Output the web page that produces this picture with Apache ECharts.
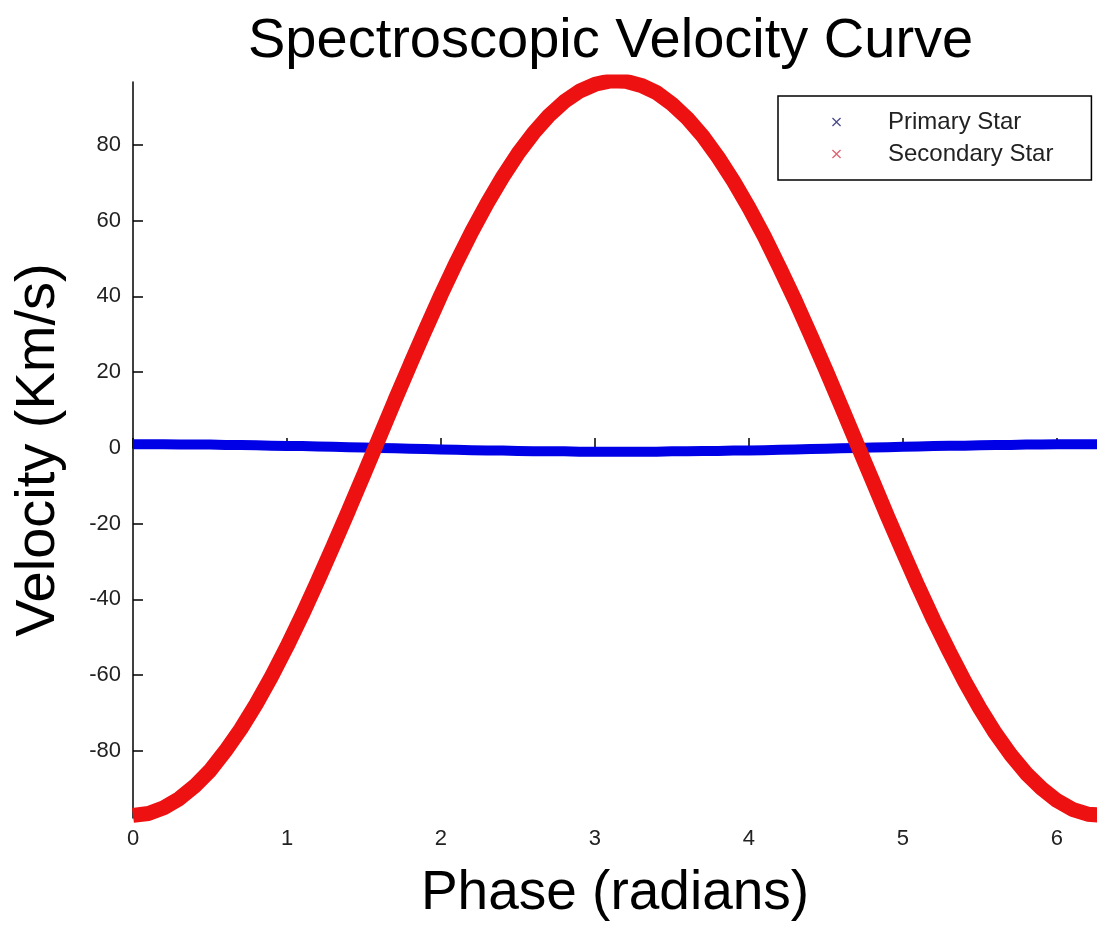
<!DOCTYPE html>
<html>
<head>
<meta charset="utf-8">
<script src="https://cdn.jsdelivr.net/npm/echarts@6/dist/echarts.min.js"></script>
<style>
  html, body { margin: 0; padding: 0; background: #fff; }
  #chart { width: 1097px; height: 932px; }
</style>
</head>
<body>
<div id="chart"></div>
<script>
// phase samples (radians)
const phase = [0.0, 0.1, 0.2, 0.3, 0.4, 0.5, 0.6, 0.7, 0.8, 0.9,
  1.0, 1.1, 1.2, 1.3, 1.4, 1.5, 1.6, 1.7, 1.8, 1.9,
  2.0, 2.1, 2.2, 2.3, 2.4, 2.5, 2.6, 2.7, 2.8, 2.9,
  3.0, 3.1, 3.2, 3.3, 3.4, 3.5, 3.6, 3.7, 3.8, 3.9,
  4.0, 4.1, 4.2, 4.3, 4.4, 4.5, 4.6, 4.7, 4.8, 4.9,
  5.0, 5.1, 5.2, 5.3, 5.4, 5.5, 5.6, 5.7, 5.8, 5.9,
  6.0, 6.1, 6.2, 6.3]

// primary star velocity (km/s), almost flat around 0
const primaryVel = [1.0, 1.0, 1.0, 0.9, 0.9, 0.9, 0.8, 0.8, 0.7, 0.6,
  0.5, 0.5, 0.4, 0.3, 0.2, 0.1, 0.0, -0.1, -0.2, -0.3,
  -0.4, -0.5, -0.6, -0.7, -0.7, -0.8, -0.9, -0.9, -0.9, -1.0,
  -1.0, -1.0, -1.0, -1.0, -1.0, -0.9, -0.9, -0.8, -0.8, -0.7,
  -0.7, -0.6, -0.5, -0.4, -0.3, -0.2, -0.1, 0.0, 0.1, 0.2,
  0.3, 0.4, 0.5, 0.6, 0.6, 0.7, 0.8, 0.8, 0.9, 0.9,
  1.0, 1.0, 1.0, 1.0]

// secondary star velocity (km/s)
const secondaryVel = [-97, -96.5, -95, -92.6, -89.3, -85.2, -80, -74.2, -67.6, -60.3,
  -52.4, -44, -35.1, -25.9, -16.5, -6.9, 2.8, 12.5, 22, 31.3,
  40.4, 49, 57.1, 64.6, 71.5, 77.7, 83.1, 87.7, 91.4, 94.2,
  96, 96.9, 96.8, 95.7, 93.8, 90.8, 87, 82.3, 76.7, 70.4,
  63.4, 55.8, 47.5, 38.9, 29.8, 20.5, 10.9, 1.2, -8.4, -18.1,
  -27.5, -36.7, -45.5, -53.7, -61.6, -68.8, -75.3, -81, -85.9, -89.9,
  -93.1, -95.4, -96.7, -97]

const yTicks = [-80, -60, -40, -20, 0, 20, 40, 60, 80]

const font = 'Liberation Sans, Arial, sans-serif'
const xIcon = 'path://M0,1L1,0L5,4L9,0L10,1L6,5L10,9L9,10L5,6L1,10L0,9L4,5Z'

let myChart = echarts.init(document.getElementById('chart'))
let option = {
  animation: false,
  backgroundColor: '#fff',
  title: {
    text: 'Spectroscopic Velocity Curve',
    left: 243,
    top: 9,
    textStyle: {
      fontFamily: font,
      fontSize: 56,
      fontWeight: 'normal',
      color: '#000'
    }
  },
  legend: {
    orient: 'vertical',
    left: 778,
    top: 96,
    padding: [14, 38, 14, 54],
    itemGap: 8,
    itemWidth: 9,
    itemHeight: 9,
    borderColor: '#000',
    borderWidth: 1.5,
    backgroundColor: '#fff',
    textStyle: {
      fontFamily: font,
      fontSize: 24,
      color: '#222',
      padding: [0, 0, 0, 42]
    },
    data: [
      { name: 'Primary Star', icon: xIcon, itemStyle: { color: '#4a4a8a' } },
      { name: 'Secondary Star', icon: xIcon, itemStyle: { color: '#e06070' } }
    ]
  },
  grid: {
    left: 133,
    right: 0,
    top: 82,
    bottom: 114
  },
  xAxis: {
    type: 'value',
    min: 0,
    max: 6.26,
    interval: 1,
    name: 'Phase (radians)',
    nameLocation: 'middle',
    nameGap: 48,
    nameTextStyle: {
      fontFamily: font,
      fontSize: 55,
      color: '#000'
    },
    splitLine: { show: false },
    axisLine: { lineStyle: { color: '#000', width: 1.5 } },
    axisTick: { inside: true, length: 10, lineStyle: { color: '#000', width: 1.5 } },
    axisLabel: {
      showMaxLabel: false,
      fontFamily: font,
      fontSize: 22,
      color: '#222',
      margin: 10
    }
  },
  yAxis: {
    type: 'value',
    min: -97.7,
    max: 96.6,
    name: 'Velocity (Km/s)',
    nameLocation: 'middle',
    nameGap: 66,
    nameTextStyle: {
      fontFamily: font,
      fontSize: 56,
      color: '#000'
    },
    splitLine: { show: false },
    axisLine: { show: true, lineStyle: { color: '#000', width: 1.5 } },
    axisTick: {
      show: true,
      inside: true,
      length: 10,
      customValues: yTicks,
      lineStyle: { color: '#000', width: 1.5 }
    },
    axisLabel: {
      customValues: yTicks,
      fontFamily: font,
      fontSize: 22,
      color: '#222',
      margin: 12
    }
  },
  series: [
    {
      name: 'Primary Star',
      type: 'line',
      showSymbol: false,
      color: '#0000e6',
      lineStyle: { width: 10, color: '#0000e6' },
      data: phase.map((x, i) => [x, primaryVel[i]])
    },
    {
      name: 'Secondary Star',
      type: 'line',
      showSymbol: false,
      color: '#ee1111',
      lineStyle: { width: 15, color: '#ee1111' },
      data: phase.map((x, i) => [x, secondaryVel[i]])
    }
  ]
}
myChart.setOption(option)
</script>
</body>
</html>
